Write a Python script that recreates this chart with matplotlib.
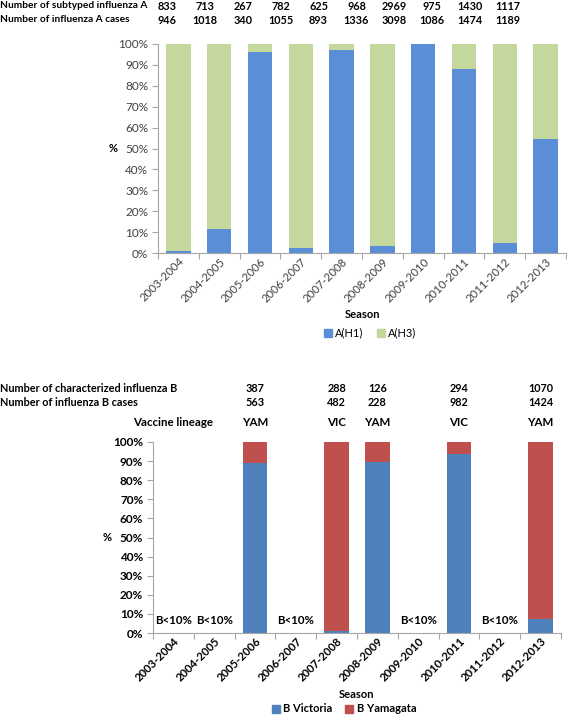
import matplotlib
matplotlib.use('Agg')
import matplotlib.pyplot as plt
import numpy as np
from matplotlib.patches import Patch

plt.rcParams['font.family'] = ['Lato', 'DejaVu Sans']

SEASONS = ['2003-2004', '2004-2005', '2005-2006', '2006-2007', '2007-2008',
           '2008-2009', '2009-2010', '2010-2011', '2011-2012', '2012-2013']

# influenza A
SUBTYPED_A = [833, 713, 267, 782, 625, 968, 2969, 975, 1430, 1117]
CASES_A = [946, 1018, 340, 1055, 893, 1336, 3098, 1086, 1474, 1189]
PCT_H1 = [1.0, 11.5, 96.0, 2.6, 97.0, 3.3, 100.0, 88.0, 4.8, 54.5]
PCT_H3 = [100 - v for v in PCT_H1]

# influenza B (None = B<10%, not characterized)
CHAR_B = [None, None, 387, None, 288, 126, None, 294, None, 1070]
CASES_B = [None, None, 563, None, 482, 228, None, 982, None, 1424]
LINEAGE = [None, None, 'YAM', None, 'VIC', 'YAM', None, 'VIC', None, 'YAM']
PCT_VIC = [0, 0, 89.2, 0, 1.0, 89.7, 0, 93.7, 0, 7.3]
PCT_YAM = [0, 0, 10.8, 0, 99.0, 10.3, 0, 6.3, 0, 92.7]

BLUE_A = '#5A8ED6'
GREEN_A = '#C4D79C'
BLUE_B = '#4F81BD'
RED_B = '#C0504D'
AXIS_GRAY = '#A6A6A6'
HEAD_FS = 7.8
LABEL_FS = 7.3

W, H = 567, 715


def fx(px):
    return px / W


def fy(py):
    return 1 - py / H


def setup_axis(ax, bold=False, color='#404040'):
    n = len(SEASONS)
    ax.set_xlim(-0.5, n - 0.5)
    ax.set_ylim(0, 100)
    ax.set_yticks(np.arange(0, 101, 10))
    weight = 'bold' if bold else 'normal'
    ax.set_yticklabels(['%d%%' % v for v in range(0, 101, 10)],
                       fontsize=8.5, color=color, fontweight=weight)
    ax.set_xticks(np.arange(-0.5, n, 1))
    ax.set_xticklabels([])
    ax.set_xticks(np.arange(n), minor=True)
    ax.set_xticklabels(SEASONS, minor=True, rotation=45, ha='right',
                       rotation_mode='anchor', fontsize=8.2, color=color,
                       fontweight=weight)
    ax.tick_params(axis='x', which='minor', length=0, pad=2)
    ax.tick_params(axis='x', which='major', length=4, color=AXIS_GRAY)
    ax.tick_params(axis='y', length=4, color=AXIS_GRAY, pad=3)
    for s in ['top', 'right']:
        ax.spines[s].set_visible(False)
    for s in ['left', 'bottom']:
        ax.spines[s].set_color(AXIS_GRAY)


fig = plt.figure(figsize=(W / 100, H / 100), dpi=100)
x = np.arange(len(SEASONS))

# ---- top chart: influenza A subtypes
ax1 = fig.add_axes([fx(158), fy(253), fx(566 - 158), fy(44) - fy(253)])
ax1.bar(x, PCT_H1, width=0.6, color=BLUE_A)
ax1.bar(x, PCT_H3, width=0.6, bottom=PCT_H1, color=GREEN_A)
setup_axis(ax1)
ax1.set_ylabel('%', rotation=0, fontsize=8, fontweight='bold', labelpad=4,
               va='center')
fig.text(fx(363), fy(314), 'Season', ha='center', va='center', fontsize=8,
         fontweight='bold')
ax1.legend(handles=[Patch(color=BLUE_A, label='A(H1)'),
                    Patch(color=GREEN_A, label='A(H3)')],
           loc='center', bbox_to_anchor=(fx(370), fy(333)),
           bbox_transform=fig.transFigure, ncol=2, frameon=False,
           fontsize=8, handlelength=0.7, handleheight=0.7, columnspacing=1.2,
           handletextpad=0.3)

fig.text(0, fy(6), 'Number of subtyped influenza A', fontsize=LABEL_FS,
         fontweight='bold', va='center')
fig.text(0, fy(20), 'Number of influenza A cases', fontsize=LABEL_FS,
         fontweight='bold', va='center')
xs = np.linspace(167, 508, len(SEASONS))
for xi, a, c in zip(xs, SUBTYPED_A, CASES_A):
    fig.text(fx(xi), fy(6), str(a), fontsize=HEAD_FS, fontweight='bold',
             ha='center', va='center')
    fig.text(fx(xi), fy(20), str(c), fontsize=HEAD_FS, fontweight='bold',
             ha='center', va='center')

# ---- bottom chart: influenza B lineages
ax2 = fig.add_axes([fx(153), fy(633), fx(561 - 153), fy(442) - fy(633)])
ax2.bar(x, PCT_VIC, width=0.6, color=BLUE_B)
ax2.bar(x, PCT_YAM, width=0.6, bottom=PCT_VIC, color=RED_B)
setup_axis(ax2, bold=True, color='black')
ax2.set_ylabel('%', rotation=0, fontsize=8, fontweight='bold', labelpad=4,
               va='center')
for i, ln in enumerate(LINEAGE):
    if ln is None:
        ax2.text(i, 6.5, 'B<10%', ha='center', va='center', fontsize=8.3,
                 fontweight='bold')
fig.text(fx(357), fy(695), 'Season', ha='center', va='center', fontsize=8,
         fontweight='bold')
ax2.legend(handles=[Patch(color=BLUE_B, label='B Victoria'),
                    Patch(color=RED_B, label='B Yamagata')],
           loc='center', bbox_to_anchor=(fx(344), fy(709)),
           bbox_transform=fig.transFigure, ncol=2, frameon=False,
           prop={'size': 8, 'weight': 'bold'}, handlelength=0.7,
           handleheight=0.7, columnspacing=1.2, handletextpad=0.3)

fig.text(0, fy(388), 'Number of characterized influenza B', fontsize=HEAD_FS,
         fontweight='bold', va='center')
fig.text(0, fy(403), 'Number of influenza B cases', fontsize=HEAD_FS,
         fontweight='bold', va='center')
fig.text(fx(173), fy(423), 'Vaccine lineage', fontsize=8.3,
         fontweight='bold', ha='center', va='center')
for i in range(len(SEASONS)):
    if LINEAGE[i] is None:
        continue
    px = ax2.transData.transform((i, 0))[0] / fig.dpi / fig.get_figwidth()
    fig.text(px, fy(388), str(CHAR_B[i]), fontsize=HEAD_FS, fontweight='bold',
             ha='center', va='center')
    fig.text(px, fy(403), str(CASES_B[i]), fontsize=HEAD_FS, fontweight='bold',
             ha='center', va='center')
    fig.text(px, fy(423), LINEAGE[i], fontsize=8.3, fontweight='bold',
             ha='center', va='center')

fig.savefig('out.png', dpi=100)
